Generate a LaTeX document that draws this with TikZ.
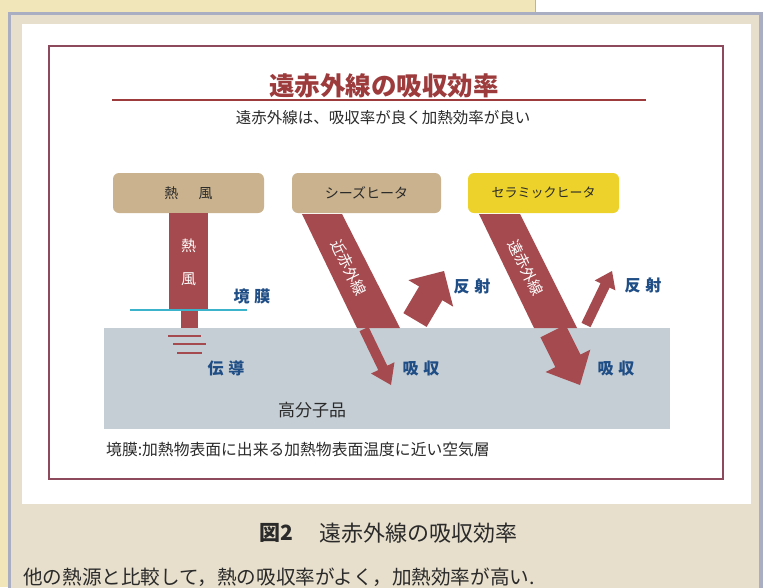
\documentclass[tikz,border=0pt]{standalone}
\usepackage{fontspec}
\setmainfont{Noto Sans CJK JP}
\usetikzlibrary{calc}
\definecolor{paleyellow}{HTML}{F1E6BA}
\definecolor{yedge}{HTML}{C9B47E}
\definecolor{framegray}{HTML}{A9AEC2}
\definecolor{beige}{HTML}{E7DFCC}
\definecolor{borderred}{HTML}{8C4A5C}
\definecolor{titlered}{HTML}{9C3A3C}
\definecolor{beam}{HTML}{A54A4E}
\definecolor{tan}{HTML}{C9B28D}
\definecolor{ceramic}{HTML}{ECD22B}
\definecolor{substrate}{HTML}{C5CED4}
\definecolor{labelblue}{HTML}{1F4D85}
\definecolor{cyanline}{HTML}{3BB3CB}
\definecolor{darktext}{HTML}{2A2A2A}
\newcommand{\fatarrow}[5]{%
  \coordinate (hb) at ($(#2)!#5!(#1)$);
  \fill[beam] ($(#1)!#3!90:(#2)$) -- ($(hb)!#3!90:(#2)$) -- ($(hb)!#4!90:(#2)$)
    -- (#2) -- ($(hb)!#4!-90:(#2)$) -- ($(hb)!#3!-90:(#2)$) -- ($(#1)!#3!-90:(#2)$) -- cycle;}
\tikzset{
  srcbox/.style={rounded corners=6pt, inner sep=0pt, minimum width=151pt, minimum height=40pt,
    font=\fontsize{14}{16}\selectfont, text=darktext},
  bluelbl/.style={font=\bfseries\fontsize{16}{18}\selectfont, text=labelblue, inner sep=0pt},
  beamtxt/.style={font=\fontsize{15}{17}\selectfont, text=white, inner sep=0pt},
}
\begin{document}
\begin{tikzpicture}[x=1pt,y=-1pt]
\useasboundingbox (0,0) rectangle (763,587);
% page backgrounds
\fill[white] (0,0) rectangle (763,587);
\fill[paleyellow] (0,0) rectangle (535,587);
\draw[yedge, line width=1pt] (535,0) -- (535,12);
\fill[framegray] (8,12) rectangle (770,600);
\fill[beige] (11,15) rectangle (759,600);
\fill[white] (22,24) rectangle (751,504);
\draw[borderred, line width=2pt] (49,46) rectangle (723,479);
% title
\node[font=\bfseries\fontsize{25.5}{28}\selectfont, text=titlered, inner sep=0pt] (title) at (384,86) {遠赤外線の吸収効率};
\draw[titlered, line width=1.5pt] (112,100) -- (646,100);
\node[font=\fontsize{15.5}{18}\selectfont, text=darktext, inner sep=0pt] (subtitle) at (383,118) {遠赤外線は、吸収率が良く加熱効率が良い};
% substrate
\fill[substrate] (104,328) rectangle (670,429);
\node[font=\fontsize{17}{19}\selectfont, text=darktext, inner sep=0pt] (polymer) at (312,410) {高分子品};
% source boxes
\node[srcbox, fill=tan] (hotair) at (188.5,193) {熱\hspace{1.45em}風};
\node[srcbox, fill=tan, minimum width=149pt] (sheath) at (366.5,193) {シーズヒータ};
\node[srcbox, fill=ceramic, font=\fontsize{13}{15}\selectfont] (ceram) at (543.5,193) {セラミックヒータ};
% hot air column
\fill[beam] (169,213) rectangle (208,310);
\fill[beam] (181,310) rectangle (198,328);
\draw[cyanline, line width=2.5pt] (130,310) -- (247,310);
\draw[beam, line width=2pt] (168,336) -- (201,336);
\draw[beam, line width=2pt] (173,344) -- (206,344);
\draw[beam, line width=2pt] (177,353) -- (202,353);
\node[beamtxt] (ha1) at (188.5,246) {熱};
\node[beamtxt] (ha2) at (188.5,279) {風};
\node[bluelbl] (film) at (252,296) {境\hspace{0.3em}膜};
\node[bluelbl] (cond) at (226,368) {伝\hspace{0.3em}導};
% sheath heater beam
\fill[beam] (302,214) -- (342,214) -- (400,328) -- (357,328) -- cycle;
\node[beamtxt, rotate=-64.5] (nir) at (349,268) {近赤外線};
\coordinate (sa0) at (364,329); \coordinate (sa1) at (391,385);
\fatarrow{sa0}{sa1}{5pt}{13pt}{19pt}
\coordinate (sr0) at (415,320); \coordinate (sr1) at (444,271);
\fatarrow{sr0}{sr1}{13.5pt}{26pt}{26pt}
\node[bluelbl] (abs1) at (421,368) {吸\hspace{0.3em}収};
\node[bluelbl] (ref1) at (472,286) {反\hspace{0.3em}射};
% ceramic heater beam
\fill[beam] (479,214) -- (520,214) -- (577,328) -- (534,328) -- cycle;
\node[beamtxt, rotate=-64.5] (fir) at (526,268) {遠赤外線};
\coordinate (ca0) at (553,331); \coordinate (ca1) at (580,385);
\fatarrow{ca0}{ca1}{14pt}{25pt}{27pt}
\coordinate (cr0) at (586,325); \coordinate (cr1) at (612,271);
\fatarrow{cr0}{cr1}{5pt}{11.5pt}{16pt}
\node[bluelbl] (abs2) at (616,368) {吸\hspace{0.3em}収};
\node[bluelbl] (ref2) at (643,285) {反\hspace{0.3em}射};
% footnote
\node[anchor=west, font=\fontsize{15.8}{18}\selectfont, text=darktext, inner sep=0pt] (note) at (106,450) {境膜:加熱物表面に出来る加熱物表面温度に近い空気層};
% caption
\node[anchor=east, font=\bfseries\fontsize{21}{24}\selectfont, text=darktext, inner sep=0pt] (fig) at (293,533) {図2};
\node[anchor=west, font=\fontsize{22}{24}\selectfont, text=darktext, inner sep=0pt] (cap) at (319,533) {遠赤外線の吸収効率};
\node[anchor=west, font=\fontsize{19.6}{22}\selectfont, text=darktext, inner sep=0pt] (desc) at (23,577) {他の熱源と比較して，熱の吸収率がよく，加熱効率が高い.};
\end{tikzpicture}
\end{document}
